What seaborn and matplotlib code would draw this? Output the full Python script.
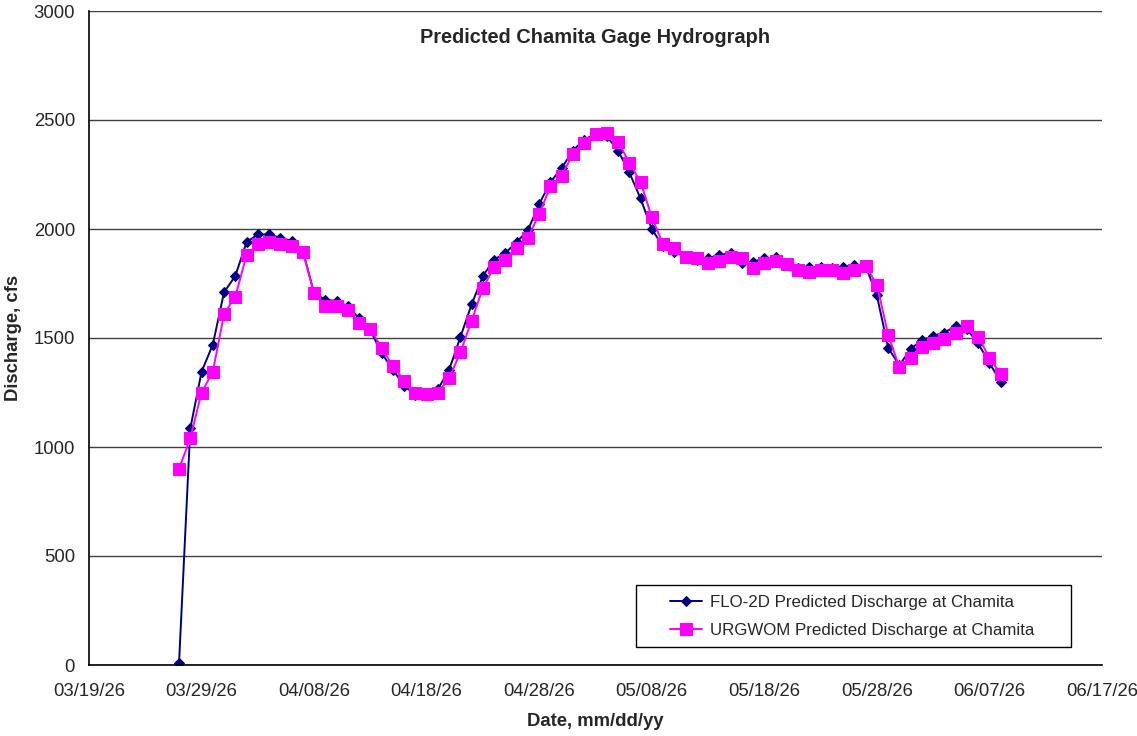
import matplotlib
matplotlib.use("Agg")
from matplotlib import pyplot as plt
from matplotlib.patches import Rectangle
import matplotlib.dates as mdates
import pandas as pd
import seaborn as sns

dates = pd.date_range("2026-03-27", "2026-06-08", freq="D")

flo2d = [10, 1085, 1345, 1470, 1710,
         1785, 1940, 1975, 1975, 1960, 1945, 1900, 1705, 1675, 1670,
         1645, 1590, 1535, 1430, 1355, 1280, 1240, 1240, 1265, 1355,
         1505, 1655, 1785, 1860, 1890, 1940, 1995, 2115, 2215, 2280,
         2360, 2410, 2435, 2425, 2360, 2260, 2140, 2000, 1920, 1895,
         1875, 1860, 1865, 1880, 1890, 1845, 1850, 1865, 1870, 1835,
         1820, 1825, 1825, 1820, 1825, 1835, 1830, 1695, 1455, 1375,
         1450, 1490, 1510, 1525, 1555, 1540, 1475, 1385, 1300]

urgwom = [900, 1040, 1250, 1345, 1610,
          1690, 1880, 1930, 1940, 1930, 1920, 1895, 1705, 1645, 1645,
          1630, 1570, 1540, 1455, 1370, 1305, 1250, 1245, 1250, 1315,
          1435, 1580, 1730, 1825, 1860, 1915, 1960, 2070, 2195, 2245,
          2345, 2395, 2435, 2440, 2400, 2305, 2215, 2055, 1930, 1915,
          1870, 1865, 1845, 1855, 1870, 1865, 1820, 1845, 1855, 1840,
          1810, 1805, 1810, 1810, 1800, 1810, 1830, 1745, 1515, 1365,
          1410, 1460, 1475, 1495, 1525, 1555, 1505, 1410, 1335]

df = pd.DataFrame({"date": dates, "flo2d": flo2d, "urgwom": urgwom})

sns.set_style("white")
plt.rcParams["font.family"] = ["Liberation Sans", "DejaVu Sans"]

fig = plt.figure(figsize=(11.37, 7.36), dpi=100)
ax = fig.add_axes([89 / 1137, 71 / 736, 1013 / 1137, 654 / 736])

sns.lineplot(data=df, x="date", y="flo2d", ax=ax, color="#000080",
             marker="D", markersize=5, markeredgecolor="#000080",
             linewidth=1.4, label="FLO-2D Predicted Discharge at Chamita")
sns.lineplot(data=df, x="date", y="urgwom", ax=ax, color="#FF00FF",
             marker="s", markersize=8.5, markeredgecolor="#FF00FF",
             linewidth=1.4, label="URGWOM Predicted Discharge at Chamita")

ax.set_xlim(pd.Timestamp("2026-03-19"), pd.Timestamp("2026-06-17"))
ax.set_ylim(0, 3000)
ax.set_yticks(range(0, 3001, 500))
ax.set_xticks(pd.date_range("2026-03-19", "2026-06-17", freq="10D"))
ax.xaxis.set_major_formatter(mdates.DateFormatter("%m/%d/%y"))

ax.grid(axis="y", color="#404040", linewidth=1)
ax.grid(axis="x", visible=False)
ax.set_axisbelow(True)
for side in ["top", "right"]:
    ax.spines[side].set_visible(False)
for side in ["left", "bottom"]:
    ax.spines[side].set_color("black")
    ax.spines[side].set_linewidth(1.2)

ax.tick_params(axis="both", which="major", direction="out", length=5,
               width=1, color="black", labelsize=13.3, pad=5)
ax.tick_params(axis="x", pad=8)

ax.set_xlabel("Date, mm/dd/yy", fontsize=13.3, fontweight="bold", labelpad=9)
ax.set_ylabel("Discharge, cfs", fontsize=13.3, fontweight="bold", labelpad=8)

ax.text(0.5, 0.96, "Predicted Chamita Gage Hydrograph", transform=ax.transAxes,
        ha="center", va="center", fontsize=14.4, fontweight="bold")

# legend box drawn separately so its padding matches the original
ax.add_patch(Rectangle((0.540, 0.0275), 0.4294, 0.0948, transform=ax.transAxes,
                       facecolor="white", edgecolor="black", linewidth=1,
                       zorder=4))
leg = ax.legend(loc="center left", bbox_to_anchor=(0.5735, 0.0739),
                fontsize=12.2, frameon=False, borderpad=0, borderaxespad=0,
                labelspacing=0.75, handlelength=1.9, handletextpad=0.45)
leg.set_zorder(5)

plt.savefig("out.png", dpi=100)
plt.close()
